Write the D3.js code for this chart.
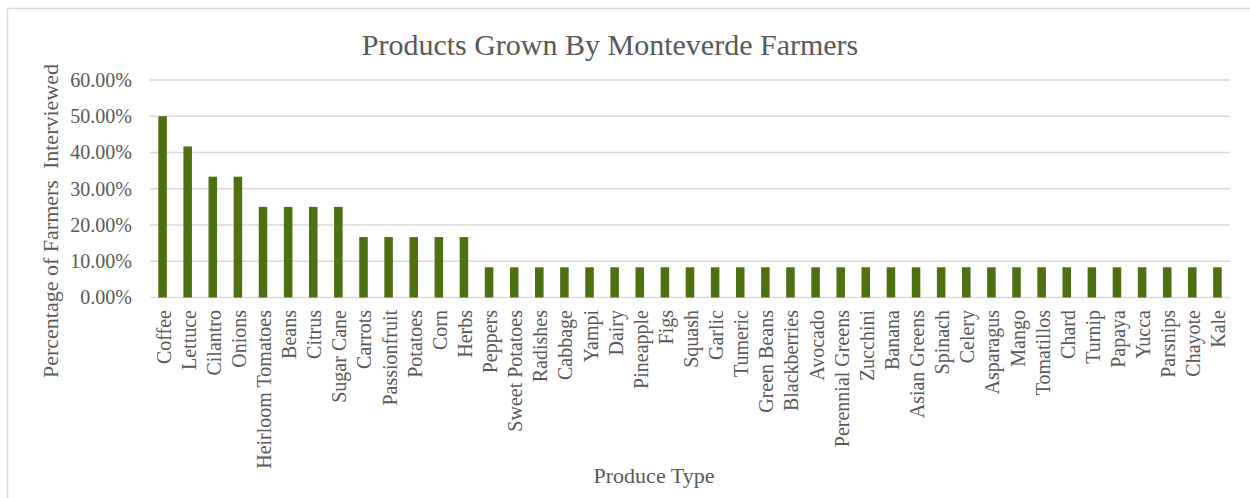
<!DOCTYPE html>
<html>
<head>
<meta charset="utf-8">
<script src="https://cdn.jsdelivr.net/npm/d3@7"></script>
<style>
  html, body { margin: 0; padding: 0; background: #fff; }
  svg { display: block; }
  text { font-family: "Liberation Serif", "Times New Roman", serif; fill: #595959; }
</style>
</head>
<body>
<svg id="chart" width="1250" height="498"></svg>
<script>
// Produce grown, share of farmers interviewed (percent)
const categories = [
  "Coffee", "Lettuce", "Cilantro", "Onions", "Heirloom Tomatoes", "Beans", "Citrus",
  "Sugar Cane", "Carrots", "Passionfruit", "Potatoes", "Corn", "Herbs", "Peppers",
  "Sweet Potatoes", "Radishes", "Cabbage", "Yampi", "Dairy", "Pineapple", "Figs",
  "Squash", "Garlic", "Tumeric", "Green Beans", "Blackberries", "Avocado",
  "Perennial Greens", "Zucchini", "Banana", "Asian Greens", "Spinach", "Celery",
  "Asparagus", "Mango", "Tomatillos", "Chard", "Turnip", "Papaya", "Yucca",
  "Parsnips", "Chayote", "Kale"
];
const percentages = [
  50.00, 41.67, 33.33, 33.33, 25.00, 25.00, 25.00, 25.00, 16.67, 16.67, 16.67, 16.67,
  16.67, 8.33, 8.33, 8.33, 8.33, 8.33, 8.33, 8.33, 8.33, 8.33, 8.33, 8.33, 8.33, 8.33,
  8.33, 8.33, 8.33, 8.33, 8.33, 8.33, 8.33, 8.33, 8.33, 8.33, 8.33, 8.33, 8.33, 8.33,
  8.33, 8.33, 8.33
];
const yTicks = [0, 10, 20, 30, 40, 50, 60];
const titleText = "Products Grown By Monteverde Farmers";
const yTitleText = "Percentage of Farmers  Interviewed";
const xTitleText = "Produce Type";

const svg = d3.select("#chart");
const W = 1250, H = 498;
const plot = { left: 150, right: 1230, top: 80, bottom: 297.5 };

// chart frame (top and left edges)
svg.append("line").attr("x1", 7.5).attr("x2", W).attr("y1", 8.5).attr("y2", 8.5)
  .attr("stroke", "#d9d9d9").attr("stroke-width", 1.5);
svg.append("line").attr("x1", 7.5).attr("x2", 7.5).attr("y1", 8.5).attr("y2", H)
  .attr("stroke", "#d9d9d9").attr("stroke-width", 1.5);

const x = d3.scaleBand()
  .domain(categories)
  .range([plot.left, plot.right])
  .paddingInner(0.66)
  .paddingOuter(0.33);

const y = d3.scaleLinear()
  .domain([0, 60])
  .range([plot.bottom, plot.top]);

// horizontal gridlines
svg.append("g")
  .selectAll("line")
  .data(yTicks)
  .join("line")
  .attr("x1", plot.left)
  .attr("x2", plot.right)
  .attr("y1", d => y(d))
  .attr("y2", d => y(d))
  .attr("stroke", "#d9d9d9")
  .attr("stroke-width", 1.5);

// y tick labels
svg.append("g")
  .selectAll("text")
  .data(yTicks)
  .join("text")
  .attr("x", 132)
  .attr("y", d => y(d))
  .attr("dy", "0.34em")
  .attr("text-anchor", "end")
  .style("font-size", "20px")
  .text(d => d.toFixed(2) + "%");

// bars
svg.append("g")
  .selectAll("rect")
  .data(categories.map((c, i) => ({ c, v: percentages[i] })))
  .join("rect")
  .attr("x", d => x(d.c))
  .attr("width", x.bandwidth())
  .attr("y", d => y(d.v))
  .attr("height", d => y(0) - y(d.v))
  .attr("fill", "#4f6f13");

// category labels, rotated
svg.append("g")
  .selectAll("text")
  .data(categories)
  .join("text")
  .attr("transform", d => `translate(${x(d) + x.bandwidth() / 2},310) rotate(-90)`)
  .attr("dy", "0.4em")
  .attr("text-anchor", "end")
  .style("font-size", "20px")
  .text(d => d);

// title
svg.append("text")
  .attr("x", 610)
  .attr("y", 55)
  .attr("text-anchor", "middle")
  .style("font-size", "30px")
  .text(titleText);

// y axis title
svg.append("text")
  .attr("transform", "translate(58,221) rotate(-90)")
  .attr("text-anchor", "middle")
  .style("font-size", "22px")
  .style("white-space", "pre")
  .text(yTitleText);

// x axis title
svg.append("text")
  .attr("x", 654)
  .attr("y", 483)
  .attr("text-anchor", "middle")
  .style("font-size", "22px")
  .text(xTitleText);
</script>
</body>
</html>
